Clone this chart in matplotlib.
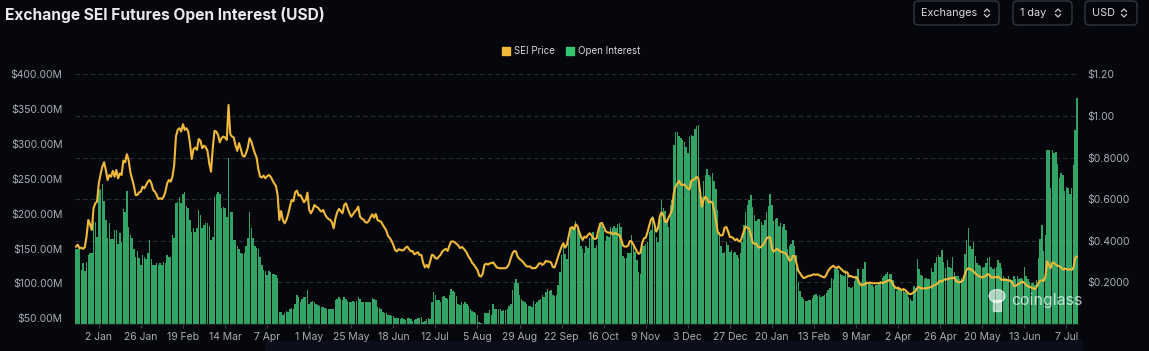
import matplotlib
matplotlib.use("Agg")
import matplotlib.pyplot as plt
import matplotlib.transforms as mtransforms
from matplotlib.patches import FancyBboxPatch, Rectangle, Ellipse
from matplotlib.lines import Line2D
import pandas as pd

# Daily open interest (USD millions), 20 Dec 2023 -> 13 Jul 2025.
open_interest = [
    150, 149, 149, 119, 129, 118, 131, 141, 143, 143,
    189, 188, 167, 234, 236, 243, 218, 191, 165, 186,
    164, 164, 177, 177, 157, 172, 160, 207, 203, 232,
    181, 169, 165, 149, 138, 146, 136, 126, 141, 138,
    135, 143, 162, 135, 126, 126, 129, 126, 129, 126,
    131, 129, 141, 138, 138, 169, 165, 216, 217, 224,
    215, 229, 231, 211, 208, 191, 174, 179, 174, 179,
    205, 198, 179, 184, 187, 186, 183, 162, 167, 224,
    229, 231, 228, 208, 209, 208, 196, 280, 203, 203,
    162, 162, 153, 149, 143, 142, 144, 153, 165, 203,
    179, 165, 153, 151, 150, 138, 126, 119, 118, 112,
    118, 117, 114, 113, 112, 108, 59, 59, 54.5, 57,
    60, 59, 64, 65, 64, 71, 84, 81, 74, 78,
    81, 81, 90, 71, 73, 75, 73, 70, 69, 68,
    66, 66, 65, 64, 64, 63, 63, 63, 76, 77,
    81, 78, 76, 81, 77, 75, 73, 74, 75, 73,
    75, 81, 77, 73, 74, 73, 73, 73, 74, 79,
    77, 76, 66, 65, 64, 59, 57, 57, 55, 55,
    53, 53, 50, 51, 50, 49, 51, 49, 47, 50,
    51, 49, 46, 47, 49, 51, 50, 52, 45, 46,
    49, 51, 49, 74, 87, 84, 76, 76, 74, 81,
    82, 79, 77, 84, 92, 89, 87, 82, 71, 69,
    74, 70, 73, 70, 68, 64, 60, 59, 58, 55,
    45, 43, 42.5, 57, 57, 57, 62, 54.5, 71, 64,
    64, 64, 63, 60, 62, 62, 64, 67, 71, 90,
    100, 106, 101, 84, 77, 75, 73, 71, 68, 68,
    66, 75, 71, 73, 76, 78, 83, 81, 87, 92,
    89, 90, 84, 82, 83, 98, 117, 141, 155, 142,
    135, 160, 177, 180, 178, 189, 183, 174, 153, 149,
    143, 153, 151, 165, 167, 174, 151, 155, 169, 186,
    184, 177, 161, 168, 167, 181, 180, 183, 180, 185,
    187, 181, 140, 137, 137, 144, 143, 170, 153, 145,
    134, 117, 114, 153, 154, 157, 160, 174, 177, 197,
    179, 167, 160, 193, 220, 208, 204, 193, 181, 212,
    219, 299, 317, 317, 312, 308, 306, 303, 296, 287,
    310, 313, 311, 322, 326, 327, 227, 224, 247, 255,
    264, 255, 253, 259, 247, 236, 205, 174, 153, 144,
    145, 160, 155, 145, 148, 143, 145, 141, 136, 143,
    160, 184, 202, 212, 220, 227, 210, 198, 189, 193,
    192, 188, 184, 191, 202, 211, 228, 212, 189, 192,
    194, 183, 186, 181, 185, 176, 149, 153, 157, 162,
    153, 141, 102, 89, 81, 78, 75, 75, 76, 76,
    79, 84, 85, 82, 83, 81, 82, 84, 86, 90,
    94, 108, 106, 121, 122, 119, 114, 112, 110, 119,
    112, 95, 93, 95, 104, 110, 121, 102, 102, 121,
    131, 100, 100, 99, 98, 95, 98, 98, 101, 103,
    108, 110, 113, 117, 114, 113, 105, 95, 89, 95,
    93, 90, 90, 88, 86, 80, 77, 75, 96, 94,
    135, 121, 112, 111, 106, 108, 107, 107, 122, 117,
    129, 138, 141, 138, 148, 131, 122, 133, 124, 122,
    138, 117, 110, 110, 107, 108, 105, 142, 162, 179,
    153, 150, 159, 140, 129, 126, 125, 122, 124, 129,
    136, 138, 124, 121, 122, 124, 133, 129, 122, 110,
    108, 107, 110, 107, 105, 110, 107, 110, 107, 108,
    107, 124, 110, 106, 102, 101, 100, 98, 105, 137,
    164, 184, 146, 169, 291, 291, 237, 291, 287, 289,
    272, 251, 258, 255, 232, 239, 237, 229, 237, 270,
    320, 366,
]

# Daily SEI price (USD), same days.
sei_price = [
    0.372, 0.381, 0.364, 0.367, 0.361, 0.369, 0.42, 0.50, 0.479, 0.452,
    0.556, 0.58, 0.588, 0.676, 0.72, 0.756, 0.777, 0.74, 0.692, 0.716,
    0.708, 0.736, 0.708, 0.74, 0.70, 0.724, 0.716, 0.785, 0.777, 0.816,
    0.788, 0.729, 0.697, 0.665, 0.62, 0.62, 0.633, 0.636, 0.66, 0.652,
    0.668, 0.684, 0.692, 0.676, 0.644, 0.636, 0.62, 0.601, 0.604, 0.601,
    0.612, 0.636, 0.676, 0.692, 0.684, 0.708, 0.764, 0.901, 0.933, 0.941,
    0.925, 0.96, 0.933, 0.941, 0.925, 0.869, 0.793, 0.84, 0.848, 0.837,
    0.889, 0.88, 0.845, 0.857, 0.849, 0.832, 0.772, 0.732, 0.845, 0.928,
    0.925, 0.909, 0.873, 0.893, 0.901, 0.896, 0.885, 1.053, 0.912, 0.901,
    0.896, 0.857, 0.832, 0.869, 0.841, 0.809, 0.804, 0.821, 0.848, 0.893,
    0.877, 0.848, 0.821, 0.80, 0.745, 0.708, 0.704, 0.713, 0.70, 0.71,
    0.716, 0.708, 0.692, 0.676, 0.665, 0.62, 0.50, 0.543, 0.50, 0.484,
    0.50, 0.527, 0.564, 0.596, 0.59, 0.633, 0.641, 0.617, 0.62, 0.604,
    0.585, 0.595, 0.631, 0.548, 0.532, 0.548, 0.572, 0.564, 0.559, 0.548,
    0.54, 0.548, 0.527, 0.513, 0.505, 0.50, 0.489, 0.46, 0.508, 0.537,
    0.553, 0.543, 0.532, 0.572, 0.58, 0.556, 0.532, 0.516, 0.527, 0.54,
    0.548, 0.564, 0.516, 0.506, 0.502, 0.489, 0.487, 0.495, 0.513, 0.527,
    0.511, 0.529, 0.50, 0.495, 0.492, 0.476, 0.463, 0.449, 0.423, 0.413,
    0.399, 0.38, 0.356, 0.349, 0.359, 0.357, 0.353, 0.356, 0.367, 0.372,
    0.359, 0.349, 0.351, 0.335, 0.34, 0.345, 0.332, 0.332, 0.295, 0.272,
    0.284, 0.271, 0.30, 0.333, 0.329, 0.316, 0.314, 0.324, 0.333, 0.349,
    0.356, 0.361, 0.351, 0.377, 0.396, 0.397, 0.393, 0.386, 0.378, 0.365,
    0.37, 0.364, 0.353, 0.341, 0.322, 0.311, 0.293, 0.285, 0.271, 0.26,
    0.232, 0.228, 0.242, 0.284, 0.29, 0.285, 0.292, 0.292, 0.296, 0.284,
    0.272, 0.269, 0.268, 0.268, 0.268, 0.268, 0.274, 0.288, 0.316, 0.34,
    0.351, 0.348, 0.322, 0.313, 0.306, 0.298, 0.287, 0.277, 0.276, 0.277,
    0.268, 0.269, 0.268, 0.276, 0.29, 0.292, 0.284, 0.29, 0.303, 0.30,
    0.30, 0.295, 0.274, 0.272, 0.296, 0.324, 0.348, 0.372, 0.388, 0.367,
    0.38, 0.42, 0.46, 0.466, 0.455, 0.479, 0.471, 0.444, 0.42, 0.404,
    0.42, 0.415, 0.428, 0.436, 0.428, 0.412, 0.409, 0.412, 0.452, 0.482,
    0.486, 0.468, 0.447, 0.441, 0.438, 0.441, 0.431, 0.436, 0.436, 0.431,
    0.425, 0.407, 0.377, 0.372, 0.372, 0.377, 0.399, 0.396, 0.38, 0.364,
    0.348, 0.337, 0.343, 0.391, 0.412, 0.415, 0.441, 0.473, 0.502, 0.511,
    0.479, 0.444, 0.46, 0.516, 0.537, 0.524, 0.492, 0.489, 0.511, 0.527,
    0.548, 0.63, 0.66, 0.675, 0.688, 0.671, 0.667, 0.671, 0.662, 0.652,
    0.647, 0.689, 0.692, 0.697, 0.707, 0.70, 0.636, 0.564, 0.596, 0.612,
    0.601, 0.585, 0.588, 0.585, 0.548, 0.50, 0.444, 0.431, 0.425, 0.428,
    0.463, 0.466, 0.444, 0.418, 0.418, 0.412, 0.402, 0.409, 0.399, 0.396,
    0.42, 0.447, 0.468, 0.463, 0.457, 0.428, 0.391, 0.385, 0.386, 0.372,
    0.367, 0.372, 0.38, 0.396, 0.412, 0.418, 0.415, 0.361, 0.348, 0.356,
    0.361, 0.354, 0.348, 0.345, 0.343, 0.338, 0.324, 0.304, 0.309, 0.327,
    0.327, 0.292, 0.256, 0.244, 0.231, 0.221, 0.223, 0.228, 0.232, 0.232,
    0.236, 0.239, 0.236, 0.239, 0.234, 0.231, 0.226, 0.224, 0.236, 0.255,
    0.266, 0.274, 0.28, 0.271, 0.271, 0.276, 0.268, 0.26, 0.252, 0.248,
    0.248, 0.228, 0.231, 0.226, 0.224, 0.226, 0.216, 0.194, 0.186, 0.189,
    0.191, 0.199, 0.196, 0.199, 0.196, 0.196, 0.196, 0.196, 0.196, 0.20,
    0.196, 0.20, 0.204, 0.207, 0.212, 0.207, 0.191, 0.179, 0.171, 0.175,
    0.168, 0.163, 0.168, 0.163, 0.155, 0.146, 0.143, 0.147, 0.154, 0.159,
    0.175, 0.178, 0.171, 0.171, 0.171, 0.171, 0.175, 0.175, 0.179, 0.184,
    0.188, 0.191, 0.20, 0.207, 0.204, 0.212, 0.216, 0.213, 0.218, 0.22,
    0.22, 0.224, 0.207, 0.202, 0.20, 0.204, 0.21, 0.239, 0.26, 0.268,
    0.264, 0.26, 0.253, 0.242, 0.236, 0.231, 0.226, 0.224, 0.228, 0.231,
    0.24, 0.236, 0.224, 0.223, 0.226, 0.223, 0.228, 0.22, 0.212, 0.212,
    0.212, 0.212, 0.21, 0.207, 0.20, 0.183, 0.183, 0.189, 0.194, 0.20,
    0.204, 0.197, 0.188, 0.181, 0.179, 0.175, 0.171, 0.168, 0.179, 0.196,
    0.208, 0.21, 0.207, 0.228, 0.30, 0.284, 0.268, 0.296, 0.293, 0.285,
    0.28, 0.277, 0.272, 0.261, 0.266, 0.264, 0.26, 0.264, 0.26, 0.271,
    0.319, 0.324,
]

start_date = "2023-12-20"
tick_start = "2024-01-02"
n_ticks = 24

oi_ticks = [50, 100, 150, 200, 250, 300, 350, 400]
price_ticks = [0.2, 0.4, 0.6, 0.8, 1.0, 1.2]
price_tick_labels = ["$0.2000", "$0.4000", "$0.6000", "$0.8000", "$1.00", "$1.20"]

W, H = 1149, 351
BG = "#06070c"
GREEN = "#31a466"
YELLOW = "#f0b93a"
TICK_COLOR = "#a9acb3"
FONT = "Inter"

plt.rcParams["font.family"] = [FONT, "DejaVu Sans"]

dates = pd.date_range(start_date, periods=len(open_interest), freq="D")
tick_dates = pd.date_range(tick_start, periods=n_ticks, freq="24D")

fig = plt.figure(figsize=(W / 100, H / 100), dpi=100, facecolor=BG)
ax = fig.add_axes([75 / W, 27 / H, 1003 / W, 249.7 / H])
ax.set_facecolor(BG)

# Open interest bars on the left axis.
ax.bar(dates, open_interest, width=0.85, color=GREEN, linewidth=0, zorder=2)
ax.set_ylim(41.8, 400)
ax.set_xlim(dates[0] - pd.Timedelta(hours=14), dates[-1] + pd.Timedelta(hours=14))

# Price line on the right axis.
ax2 = ax.twinx()
ax2.plot(dates, sei_price, color=YELLOW, linewidth=1.5, zorder=3)
ax2.set_ylim(0, 1.2)

# Dashed grid follows the right axis, drawn behind the bars.
grid_trans = mtransforms.blended_transform_factory(ax.transAxes, ax2.transData)
for g in price_ticks:
    ax.plot([0, 1], [g, g], transform=grid_trans, color="#2a2d34",
            linewidth=0.8, linestyle=(0, (4, 3)), zorder=1)

ax.set_yticks(oi_ticks)
ax.set_yticklabels([f"${v:.2f}M" for v in oi_ticks])
ax.tick_params(axis="y", length=0, pad=9, labelsize=7.5, labelcolor=TICK_COLOR)
ax2.set_yticks(price_ticks)
ax2.set_yticklabels(price_tick_labels)
ax2.tick_params(axis="y", length=0, pad=7, labelsize=7.5, labelcolor=TICK_COLOR)

ax.set_xticks(tick_dates)
ax.set_xticklabels([f"{d.day} {d.strftime('%b')}" for d in tick_dates])
ax.tick_params(axis="x", length=3, width=0.8, color="#3a3d44", pad=3,
               labelsize=7.5, labelcolor=TICK_COLOR)

for a in (ax, ax2):
    for side in ("top", "right", "left", "bottom"):
        a.spines[side].set_visible(False)
ax.spines["bottom"].set_visible(True)
ax.spines["bottom"].set_color("#1f2229")

# Title.
fig.text(5 / W, 1 - 15 / H, "Exchange SEI Futures Open Interest (USD)",
         color="#e9e9ec", fontsize=11.2, fontweight="bold", va="center", ha="left")

# Legend.
px = mtransforms.IdentityTransform()
for x0, color, label in [(502, YELLOW, "SEI Price"), (566, "#34c76f", "Open Interest")]:
    fig.add_artist(Rectangle((x0, H - 55), 8, 8, color=color, transform=px))
    fig.text((x0 + 12) / W, 1 - 51 / H, label, color="#d6d7db", fontsize=7,
             va="center", ha="left")

# Selector buttons in the top right.
buttons = [("Exchanges", 914, 999, 987), ("1 day", 1013, 1072, 1058), ("USD", 1085, 1137, 1124)]
for label, x0, x1, cx in buttons:
    fig.add_artist(FancyBboxPatch((x0, H - 25), x1 - x0, 24,
                                  boxstyle="round,pad=0,rounding_size=4",
                                  facecolor="none", edgecolor="#33363e",
                                  linewidth=1, transform=px))
    fig.text((x0 + 7) / W, 1 - 13.5 / H, label, color="#d8d9dd", fontsize=7.8,
             va="center", ha="left")
    cy = H - 13
    fig.add_artist(Line2D([cx - 2.5, cx, cx + 2.5], [cy + 1.5, cy + 4, cy + 1.5],
                          color="#c9cacf", linewidth=0.9, transform=px))
    fig.add_artist(Line2D([cx - 2.5, cx, cx + 2.5], [cy - 1.5, cy - 4, cy - 1.5],
                          color="#c9cacf", linewidth=0.9, transform=px))

# Watermark.
fig.add_artist(Ellipse((997, H - 296), 16, 13, color="white", alpha=0.6, transform=px))
fig.add_artist(Rectangle((993, H - 311), 8, 11, color="white", alpha=0.6, transform=px))
fig.text(1011 / W, 1 - 301 / H, "coinglass", color="white", alpha=0.7,
         fontsize=11.5, va="center", ha="left")

# Faint zoom-slider strip under the axis.
fig.add_artist(Rectangle((265, 0), 816, 10, color="#0b0f1b", transform=px, zorder=0))

fig.savefig("out.png", dpi=100, facecolor=BG)
plt.close(fig)
